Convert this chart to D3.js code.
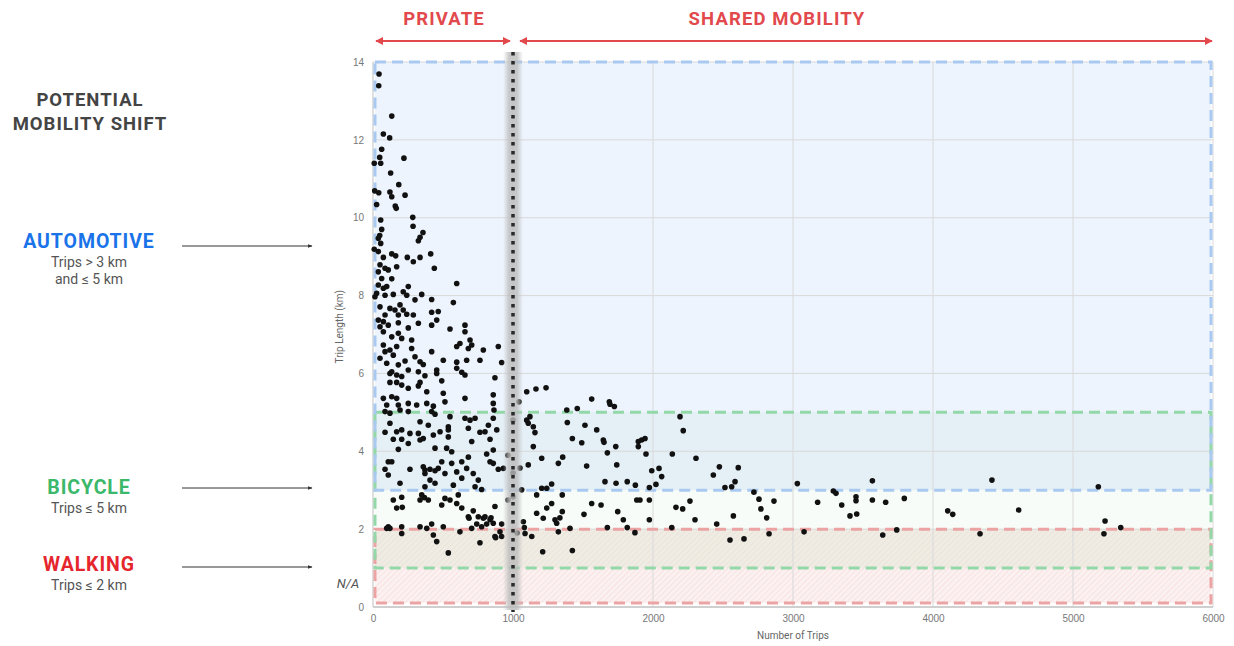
<!DOCTYPE html>
<html>
<head>
<meta charset="utf-8">
<script src="https://cdn.jsdelivr.net/npm/d3@7"></script>
<style>
  html, body { margin: 0; padding: 0; background: #fff; }
  svg { display: block; font-family: Roboto, "Noto Sans", sans-serif; }
</style>
</head>
<body>
<svg id="chart" width="1234" height="646"></svg>
<script>
// ---- data ----------------------------------------------------------------
const xTicks = [0, 1000, 2000, 3000, 4000, 5000, 6000];
const yTicks = [0, 2, 4, 6, 8, 10, 12, 14];
const ownershipCutoff = 1000;           // trips: private below, shared above
const ownershipLabels = ["PRIVATE", "SHARED MOBILITY"];

const zoneNames = ["automotive", "bicycle", "walking"];
const zoneFromKm = [3, 1, 0.1];
const zoneToKm = [14, 5, 2];
const modeTitles = ["AUTOMOTIVE", "BICYCLE", "WALKING"];
const modeNotes = [["Trips > 3 km", "and \u2264 5 km"], ["Trips \u2264 5 km"], ["Trips \u2264 2 km"]];

// [number of trips, trip length in km]
const privateTrips = [
  [43,13.69],[41,13.39],[134,12.61],[74,12.15],[119,12.05],[62,11.76],[9,11.40],[48,11.55],[55,11.40],[221,11.53],
  [126,11.15],[12,10.69],[41,10.64],[184,10.85],[121,10.66],[134,10.54],[229,10.58],[26,10.34],[159,10.30],[166,10.24],
  [284,10.01],[55,9.94],[286,9.78],[62,9.70],[357,9.62],[336,9.50],[324,9.41],[48,9.54],[38,9.47],[55,9.34],
  [9,9.19],[38,9.13],[74,8.98],[134,9.07],[162,9.02],[245,8.98],[336,8.98],[412,9.07],[288,8.87],[438,8.70],
  [50,8.79],[86,8.70],[38,8.61],[109,8.66],[169,8.74],[62,8.44],[134,8.43],[598,8.31],[38,8.27],[74,8.19],
  [98,8.23],[26,8.06],[14,7.97],[86,8.01],[145,8.03],[216,8.10],[241,8.01],[252,8.23],[348,8.03],[419,7.90],
  [300,7.89],[574,7.82],[50,7.71],[121,7.67],[157,7.63],[193,7.76],[216,7.63],[86,7.50],[181,7.50],[241,7.52],
  [288,7.50],[419,7.57],[466,7.59],[38,7.37],[74,7.33],[109,7.24],[181,7.30],[252,7.17],[324,7.29],[419,7.24],
  [455,7.37],[550,7.14],[657,7.24],[50,7.20],[74,7.07],[134,6.94],[181,7.03],[205,6.90],[276,6.86],[657,7.07],
  [621,6.77],[598,6.69],[693,6.86],[705,6.73],[681,6.64],[788,6.60],[895,6.69],[74,6.73],[86,6.56],[121,6.60],
  [145,6.47],[169,6.69],[276,6.64],[300,6.43],[419,6.56],[502,6.34],[50,6.39],[98,6.26],[181,6.22],[229,6.32],
  [336,6.30],[359,6.23],[598,6.29],[669,6.34],[764,6.34],[919,6.28],[134,6.04],[121,6.00],[169,5.96],[205,5.92],
  [252,6.09],[324,6.04],[455,6.09],[455,6.00],[598,6.13],[634,6.03],[657,5.96],[371,5.94],[871,5.89],[491,5.81],
  [121,5.77],[169,5.77],[205,5.70],[252,5.62],[324,5.68],[336,5.77],[384,5.53],[502,5.49],[657,5.36],[859,5.45],
  [859,5.23],[74,5.36],[134,5.40],[169,5.36],[98,5.19],[181,5.19],[252,5.23],[312,5.19],[384,5.23],[431,5.16],
  [514,5.27],[86,5.02],[121,4.98],[193,5.06],[252,5.02],[419,5.02],[443,4.95],[550,4.89],[657,4.85],[693,4.80],
  [729,4.85],[859,4.85],[824,4.67],[121,4.72],[336,4.76],[395,4.67],[538,4.63],[86,4.49],[169,4.50],[205,4.55],
  [264,4.46],[324,4.46],[479,4.50],[538,4.55],[681,4.59],[764,4.49],[800,4.50],[884,4.55],[145,4.31],[205,4.31],
  [336,4.29],[431,4.42],[538,4.37],[359,4.33],[252,4.20],[705,4.25],[836,4.31],[181,4.05],[443,4.08],[526,4.08],
  [562,3.99],[859,4.03],[812,3.93],[109,3.73],[134,3.73],[491,3.73],[562,3.69],[634,3.73],[681,3.85],[836,3.73],
  [859,3.69],[86,3.54],[264,3.54],[359,3.60],[371,3.52],[407,3.54],[443,3.50],[466,3.56],[669,3.56],[895,3.54],
  [931,3.56],[109,3.39],[371,3.43],[514,3.43],[598,3.47],[716,3.43],[407,3.26],[443,3.18],[634,3.31],[752,3.26],
  [193,3.18],[371,3.09],[574,3.13],[729,3.09],[776,3.02],[205,2.82],[348,2.88],[514,2.79],[145,2.75],[169,2.54],
  [209,2.56],[336,2.75],[395,2.75],[491,2.62],[550,2.75],[598,2.66],[634,2.54],[609,2.88],[681,2.32],[109,2.06],
  [121,2.02],[205,2.06],[205,1.89],[336,2.06],[384,2.02],[419,2.13],[502,2.06],[431,1.85],[455,1.68],[538,1.39],
  [621,1.93],[752,2.32],[741,2.13],[788,2.28],[800,2.32],[812,2.13],[836,2.24],[859,2.15],[871,2.58],[871,1.81],
  [764,1.65],[919,2.13],[919,1.81],[907,1.93],[716,2.47],[705,2.02],[776,2.06],[686,2.28],[98,2.02],[367,2.81],
  [843,2.29],[876,1.78],[864,5.06],[964,2.75],[964,3.90],[1000,3.44],[1000,4.80],[1000,2.83]
];

const sharedTrips = [
  [1029,1.90],[1050,3.57],[1043,5.27],[1081,2.04],[1098,5.53],[1164,5.60],[1236,5.63],[1098,4.80],[1109,4.72],[1145,4.63],
  [1121,4.89],[1157,4.48],[1145,4.12],[1205,3.82],[1109,3.65],[1062,3.01],[1169,2.88],[1205,3.05],[1241,3.05],[1276,3.16],
  [1276,2.66],[1241,2.54],[1169,2.41],[1216,2.28],[1300,2.24],[1312,2.15],[1324,1.93],[1074,2.19],[1086,1.89],[1134,1.81],
  [1212,1.42],[1352,2.88],[1407,2.02],[1424,1.45],[1384,5.06],[1388,4.74],[1424,4.33],[1459,5.10],[1491,4.22],[1514,4.67],
  [1526,3.62],[1324,3.69],[1355,3.85],[1562,5.34],[1598,4.55],[1645,4.29],[1650,4.23],[1674,3.96],[1688,5.27],[1693,5.21],
  [1724,5.15],[1734,4.12],[1741,3.65],[1562,2.66],[1629,2.62],[1507,2.38],[1657,3.22],[1736,3.18],[1748,2.45],[1788,2.24],
  [1816,3.22],[1874,3.13],[1884,2.75],[1674,2.04],[1816,2.04],[1871,1.91],[1895,4.12],[1895,4.25],[1919,4.29],[1943,4.33],
  [1950,3.93],[1907,2.75],[1974,2.75],[1974,3.07],[1974,2.24],[1991,3.50],[2021,3.15],[2043,3.56],[2062,3.35],[2138,3.93],
  [2134,2.04],[2164,2.56],[2193,4.89],[2216,4.53],[2212,2.52],[2264,2.72],[2307,3.82],[2300,2.24],[2431,3.39],[2455,2.13],
  [2474,3.60],[2514,3.07],[2550,1.72],[2562,3.09],[2574,2.34],[2586,3.22],[2609,3.58],[2650,1.75],[2721,2.95],[2757,2.77],
  [2771,2.52],[2812,2.29],[2829,1.88],[2864,2.72],[3031,3.17],[3079,1.93],[3176,2.69],[3288,2.98],[3307,2.92],[3348,2.62],
  [3407,2.34],[3450,2.83],[3450,2.73],[3455,2.39],[3567,3.24],[3567,2.75],[3641,1.85],[3662,2.69],[3741,1.98],[3795,2.79],
  [4105,2.47],[4141,2.38],[4336,1.88],[4421,3.26],[4612,2.49],[5181,3.09],[5229,2.21],[5221,1.88],[5341,2.04],[1352,2.45],
  [1335,2.29]
];

// ---- layout ----------------------------------------------------------------
const svg = d3.select("#chart");
const x = d3.scaleLinear().domain([0, 6000]).range([373, 1213]);
const y = d3.scaleLinear().domain([0, 14]).range([607, 62]);

const zoneFill = { automotive: "rgba(200,222,250,0.32)", bicycle: "rgba(185,228,195,0.11)", walking: "rgba(235,168,168,0.16)" };
const zoneStroke = { automotive: "#a9c9f1", bicycle: "#93d8a8", walking: "#eca3a3" };
const modeColor = ["#1a73e8", "#3bb86a", "#e5262d"];
const red = "#e2494d";

const defs = svg.append("defs");
const hatch = defs.append("pattern").attr("id", "hatch").attr("patternUnits", "userSpaceOnUse")
  .attr("width", 4).attr("height", 4).attr("patternTransform", "rotate(45)");
hatch.append("line").attr("x1", 0).attr("y1", 0).attr("x2", 0).attr("y2", 4)
  .attr("stroke", "rgba(225,150,150,0.28)").attr("stroke-width", 1.2);

const grad = defs.append("linearGradient").attr("id", "band").attr("x1", "0").attr("x2", "1").attr("y1", "0").attr("y2", "0");
grad.append("stop").attr("offset", "0%").attr("stop-color", "#c4c4c4").attr("stop-opacity", 0);
grad.append("stop").attr("offset", "30%").attr("stop-color", "#bcbcbc").attr("stop-opacity", 0.8);
grad.append("stop").attr("offset", "70%").attr("stop-color", "#bcbcbc").attr("stop-opacity", 0.8);
grad.append("stop").attr("offset", "100%").attr("stop-color", "#c4c4c4").attr("stop-opacity", 0);

const mk = defs.append("marker").attr("id", "redHead").attr("viewBox", "0 0 10 10")
  .attr("refX", 9).attr("refY", 5).attr("markerWidth", 4).attr("markerHeight", 4)
  .attr("orient", "auto-start-reverse");
mk.append("path").attr("d", "M0,0 L10,5 L0,10 z").attr("fill", red);
const mk2 = defs.append("marker").attr("id", "darkHead").attr("viewBox", "0 0 10 10")
  .attr("refX", 9).attr("refY", 5).attr("markerWidth", 5).attr("markerHeight", 5)
  .attr("orient", "auto");
mk2.append("path").attr("d", "M0,1 L10,5 L0,9 z").attr("fill", "#333");

// zone fills
const zones = zoneNames.map((n, i) => ({ name: n, from: zoneFromKm[i], to: zoneToKm[i] }));
const inset = 2;
const bandRect = (from, to) => svg.append("rect")
  .attr("x", x(0) + inset).attr("width", x(6000) - x(0) - inset * 2)
  .attr("y", y(to)).attr("height", y(from) - y(to));

// walking (hatched pink), then bicycle and automotive tints on top
bandRect(zoneFromKm[2], zoneToKm[2]).attr("fill", zoneFill.walking);
bandRect(zoneFromKm[2], zoneToKm[2]).attr("fill", "url(#hatch)");
bandRect(zoneFromKm[1], zoneToKm[1]).attr("fill", zoneFill.bicycle);
bandRect(zoneFromKm[1], zoneToKm[2]).attr("fill", "rgba(228,232,214,0.35)");   // walking/bicycle overlap
bandRect(zoneFromKm[0], zoneToKm[0]).attr("fill", zoneFill.automotive);
bandRect(zoneFromKm[0], zoneToKm[1]).attr("fill", "rgba(160,185,205,0.045)");  // automotive/bicycle overlap

// grid
const grid = svg.append("g").attr("stroke", "#d9d9d9").attr("stroke-width", 1);
grid.selectAll(".gx").data(xTicks.slice(1)).join("line")
  .attr("x1", d => x(d)).attr("x2", d => x(d)).attr("y1", y(14)).attr("y2", y(0));
grid.selectAll(".gy").data(yTicks.slice(1)).join("line")
  .attr("x1", x(0)).attr("x2", x(6000)).attr("y1", d => y(d)).attr("y2", d => y(d));

// axis lines
svg.append("line").attr("x1", x(0)).attr("x2", x(6000)).attr("y1", y(0)).attr("y2", y(0))
  .attr("stroke", "#cfcfcf").attr("stroke-width", 2);
svg.append("line").attr("x1", x(0)).attr("x2", x(0)).attr("y1", y(14)).attr("y2", y(0))
  .attr("stroke", "#d5d5d5").attr("stroke-width", 1.5);

// dashed zone outlines (walking first, bicycle, automotive on top)
svg.append("g").selectAll("rect").data(zones.slice().reverse()).join("rect")
  .attr("x", x(0) + inset).attr("width", x(6000) - x(0) - inset * 2)
  .attr("y", d => y(d.to)).attr("height", d => y(d.from) - y(d.to))
  .attr("fill", "none").attr("stroke", d => zoneStroke[d.name])
  .attr("stroke-width", 3).attr("stroke-dasharray", "11,6");

// axes
const xAxis = d3.axisBottom(x).tickValues(xTicks).tickFormat(d3.format("d")).tickSize(0).tickPadding(8);
const gx = svg.append("g").attr("transform", `translate(0,${y(0)})`).call(xAxis);
gx.select(".domain").remove();
gx.selectAll("text").attr("fill", "#777").attr("font-size", 10);

const yAxis = d3.axisLeft(y).tickValues(yTicks).tickFormat(d3.format("d")).tickSize(0).tickPadding(9);
const gy = svg.append("g").attr("transform", `translate(${x(0)},0)`).call(yAxis);
gy.select(".domain").remove();
gy.selectAll("text").attr("fill", "#777").attr("font-size", 10);

svg.append("text").attr("x", 348).attr("y", y(0.6)).attr("dy", "0.35em")
  .attr("text-anchor", "middle").attr("font-size", 13).attr("font-style", "italic")
  .attr("fill", "#555").text("N/A");

svg.append("text").attr("x", 793).attr("y", 639)
  .attr("text-anchor", "middle").attr("font-size", 10).attr("fill", "#666").text("Number of Trips");
svg.append("text").attr("transform", `translate(343,${y(7.2)}) rotate(-90)`)
  .attr("text-anchor", "middle").attr("font-size", 10).attr("fill", "#666").text("Trip Length (km)");

// points
const allTrips = privateTrips.concat(sharedTrips);
svg.append("g").selectAll("circle").data(allTrips).join("circle")
  .attr("cx", d => x(d[0])).attr("cy", d => y(d[1])).attr("r", 2.8).attr("fill", "#111");

// private / shared divider
const cx = x(ownershipCutoff);
svg.append("rect").attr("x", cx - 10).attr("width", 20).attr("y", 52).attr("height", 558)
  .attr("fill", "url(#band)");
svg.append("line").attr("x1", cx).attr("x2", cx).attr("y1", 52).attr("y2", 612)
  .attr("stroke", "#2a2a2a").attr("stroke-width", 3.5).attr("stroke-dasharray", "3.5,5.5");

// ownership headers
const spans = [[x(0) + 3, cx - 3], [cx + 7, x(6000) - 1]];
const headerX = [444, 777];
spans.forEach((s, i) => {
  svg.append("line").attr("x1", s[0]).attr("x2", s[1]).attr("y1", 41).attr("y2", 41)
    .attr("stroke", red).attr("stroke-width", 2)
    .attr("marker-start", "url(#redHead)").attr("marker-end", "url(#redHead)");
  svg.append("text").attr("x", headerX[i]).attr("y", 25)
    .attr("text-anchor", "middle").attr("font-size", 18.5).attr("font-weight", 700)
    .attr("letter-spacing", 1.1).attr("fill", red).text(ownershipLabels[i]);
});

// left-hand mode annotations
const left = svg.append("g").attr("text-anchor", "middle");
left.append("text").attr("x", 90).attr("y", 106).attr("font-size", 18.5).attr("font-weight", 700)
  .attr("letter-spacing", 1).attr("fill", "#444").text("POTENTIAL");
left.append("text").attr("x", 90).attr("y", 130).attr("font-size", 18.5).attr("font-weight", 700)
  .attr("letter-spacing", 1).attr("fill", "#444").text("MOBILITY SHIFT");

const titleBase = [248, 494, 571];
const arrowY = [246, 488, 567];
modeTitles.forEach((t, i) => {
  left.append("text").attr("x", 89).attr("y", titleBase[i]).attr("font-size", 19.5).attr("font-weight", 700)
    .attr("letter-spacing", 0.9).attr("fill", modeColor[i]).text(t);
  modeNotes[i].forEach((n, j) => {
    left.append("text").attr("x", 89).attr("y", titleBase[i] + 19 + j * 17).attr("font-size", 14)
      .attr("fill", "#555").text(n);
  });
  svg.append("line").attr("x1", 182).attr("x2", 312).attr("y1", arrowY[i]).attr("y2", arrowY[i])
    .attr("stroke", "#333").attr("stroke-width", 1).attr("marker-end", "url(#darkHead)");
});
</script>
</body>
</html>
